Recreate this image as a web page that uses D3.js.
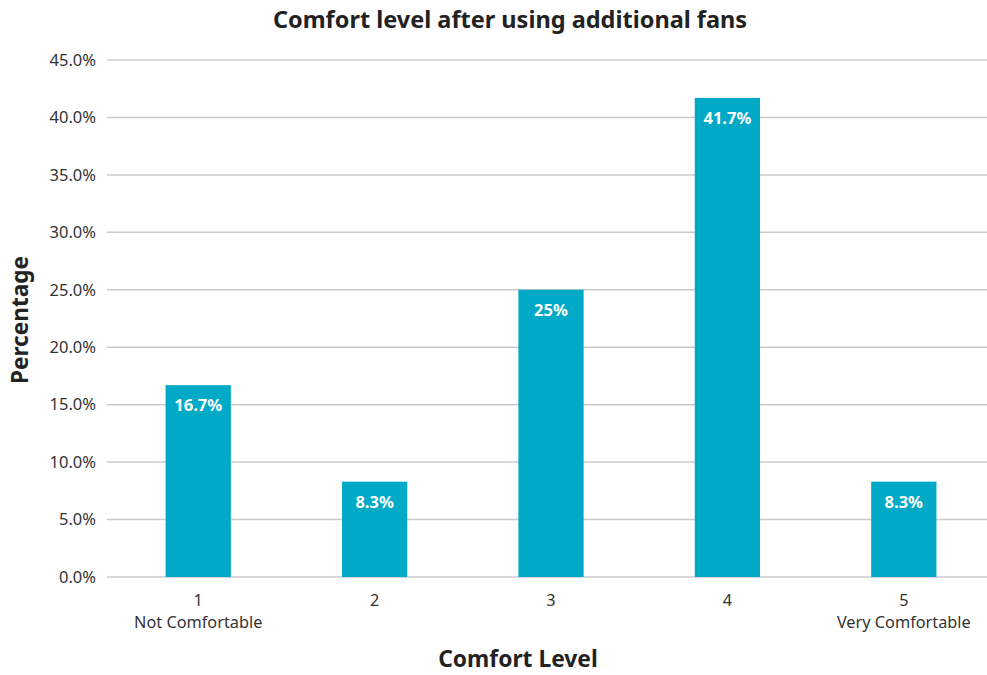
<!DOCTYPE html>
<html>
<head>
<meta charset="utf-8">
<script src="https://cdn.jsdelivr.net/npm/d3@7"></script>
<style>
  html, body { margin: 0; padding: 0; background: #fff; }
  svg { display: block; font-family: "Noto Sans", sans-serif; }
</style>
</head>
<body>
<svg id="chart" width="987" height="675"></svg>
<script>
// Survey results: comfort level after using additional fans
const levels = ["1", "2", "3", "4", "5"];
const levelNotes = ["Not Comfortable", "", "", "", "Very Comfortable"];
const percentages = [16.7, 8.3, 25, 41.7, 8.3];
const valueLabels = ["16.7%", "8.3%", "25%", "41.7%", "8.3%"];
const yTicks = [0, 5, 10, 15, 20, 25, 30, 35, 40, 45];

const width = 987, height = 675;
const margin = { top: 60, right: -5, bottom: 98, left: 110 };
const FONT = "'Noto Sans', sans-serif";

const svg = d3.select("#chart");

const x = d3.scaleBand()
  .domain(levels)
  .range([margin.left, width - margin.right])
  .paddingInner(0.63)
  .paddingOuter(0.315);

const y = d3.scaleLinear()
  .domain([0, 45])
  .range([height - margin.bottom, margin.top]);

// Horizontal gridlines
svg.append("g")
  .selectAll("line")
  .data(yTicks)
  .join("line")
  .attr("x1", 107)
  .attr("x2", width)
  .attr("y1", d => y(d))
  .attr("y2", d => y(d))
  .attr("stroke", "#cbcbcb")
  .attr("stroke-width", 1.5);

// Y axis tick labels
const yAxis = d3.axisLeft(y)
  .tickValues(yTicks)
  .tickFormat(d => d.toFixed(1) + "%")
  .tickSize(0)
  .tickPadding(14);

svg.append("g")
  .attr("transform", `translate(${margin.left},0)`)
  .call(yAxis)
  .call(g => g.select(".domain").remove())
  .call(g => g.selectAll("text")
    .attr("font-family", FONT)
    .attr("font-size", 16.5)
    .attr("fill", "#333"));

// Bars
svg.append("g")
  .selectAll("rect")
  .data(percentages)
  .join("rect")
  .attr("x", (d, i) => x(levels[i]))
  .attr("width", x.bandwidth())
  .attr("y", d => y(d))
  .attr("height", d => y(0) - y(d))
  .attr("fill", "#00aac6");

// Value labels inside the bars
svg.append("g")
  .selectAll("text")
  .data(percentages)
  .join("text")
  .attr("x", (d, i) => x(levels[i]) + x.bandwidth() / 2)
  .attr("y", d => y(d) + 26)
  .attr("text-anchor", "middle")
  .attr("font-size", 16.5)
  .attr("font-weight", 700)
  .attr("fill", "#fff")
  .text((d, i) => valueLabels[i]);

// Category labels
const cat = svg.append("g")
  .selectAll("g")
  .data(levels)
  .join("g")
  .attr("transform", d => `translate(${x(d) + x.bandwidth() / 2},0)`);

cat.append("text")
  .attr("y", 606)
  .attr("text-anchor", "middle")
  .attr("font-size", 16.3)
  .attr("fill", "#333")
  .text(d => d);

cat.append("text")
  .attr("y", 628)
  .attr("text-anchor", "middle")
  .attr("font-size", 16.3)
  .attr("fill", "#333")
  .text((d, i) => levelNotes[i]);

// Titles
svg.append("text")
  .attr("x", 510)
  .attr("y", 28)
  .attr("text-anchor", "middle")
  .attr("font-size", 23.5)
  .attr("font-weight", 700)
  .attr("fill", "#222")
  .text("Comfort level after using additional fans");

svg.append("text")
  .attr("x", 518)
  .attr("y", 667)
  .attr("text-anchor", "middle")
  .attr("font-size", 22.8)
  .attr("font-weight", 700)
  .attr("fill", "#222")
  .text("Comfort Level");

svg.append("text")
  .attr("transform", "translate(28,320) rotate(-90)")
  .attr("text-anchor", "middle")
  .attr("font-size", 22.6)
  .attr("font-weight", 700)
  .attr("fill", "#222")
  .text("Percentage");
</script>
</body>
</html>
